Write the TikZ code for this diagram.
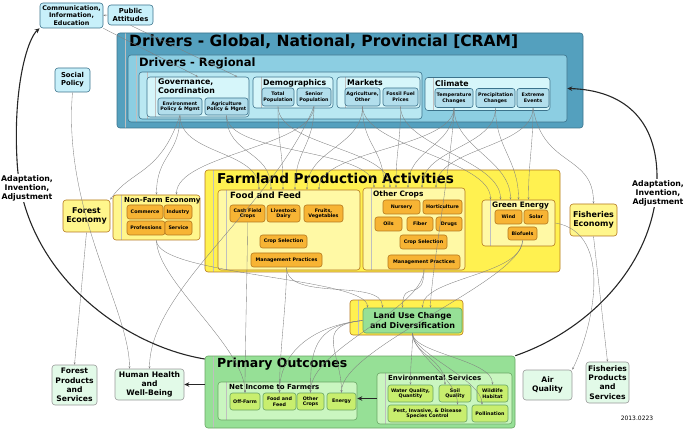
\documentclass[tikz,border=0pt]{standalone}
\usepackage{fontspec}
\setmainfont{DejaVu Sans}
\usetikzlibrary{arrows.meta}
\definecolor{drvA}{RGB}{84,160,190}
\definecolor{drvB}{RGB}{140,206,226}
\definecolor{drvC}{RGB}{185,232,242}
\definecolor{drvD}{RGB}{214,246,250}
\definecolor{drvitem}{RGB}{178,222,236}
\definecolor{drvline}{RGB}{60,115,140}
\definecolor{cyanbox}{RGB}{200,240,250}
\definecolor{farmA}{RGB}{255,241,80}
\definecolor{farmB}{RGB}{255,249,165}
\definecolor{crop}{RGB}{247,180,52}
\definecolor{cropline}{RGB}{180,120,30}
\definecolor{ecobox}{RGB}{255,246,140}
\definecolor{outA}{RGB}{150,224,150}
\definecolor{outB}{RGB}{202,246,192}
\definecolor{outitem}{RGB}{200,238,110}
\definecolor{outline}{RGB}{105,165,100}
\definecolor{endbox}{RGB}{226,250,232}
\begin{document}
\begin{tikzpicture}[x=1pt, y=-1pt,
    sz/.style 2 args={minimum width=#1, minimum height=#2},
    strip/.style={path picture={\draw[black!25, line width=0.4pt] ([xshift=8pt]path picture bounding box.north west) -- ([xshift=8pt]path picture bounding box.south west);}},
    grp/.style={draw=#1, rounded corners=3pt, line width=0.6pt, inner sep=0pt, strip},
    box/.style={draw=#1, rounded corners=2.5pt, line width=0.6pt, align=center, inner sep=0.5pt,
      font=\fontsize{4.8}{5.6}\selectfont\bfseries},
    bigbox/.style={draw=#1, rounded corners=3pt, line width=0.6pt, align=center, inner sep=0.5pt,
      font=\fontsize{7.6}{9.2}\selectfont\bfseries},
    ttl/.style={anchor=north west, inner sep=0pt, align=left},
    sub/.style={ttl, font=\fontsize{7.8}{8.6}\selectfont\bfseries},
    note/.style={align=center, fill=white, inner sep=1pt, font=\fontsize{7.8}{9}\selectfont\bfseries},
    link/.style={draw=black!50, line width=0.35pt, -{Stealth[length=2.4pt, width=1.9pt]}},
    bigarr/.style={draw=black!85, line width=1.1pt, -{Stealth[length=5pt, width=4.5pt]}}]
\useasboundingbox (0,0) rectangle (685,430);

\node[grp=drvline, fill=drvA, sz={466}{95}] (glob) at (350,80.5) {};
\node[ttl, font=\fontsize{15.5}{17}\selectfont\bfseries] (glob-t) at (129,35) {Drivers - Global, National, Provincial [CRAM]};
\node[grp=drvline, fill=drvB, sz={439}{67}] (reg) at (347.5,88.5) {};
\node[ttl, font=\fontsize{11.5}{13}\selectfont\bfseries] (reg-t) at (139,58) {Drivers - Regional};
\node[grp=drvline, fill=drvC, sz={283}{47}] (drvin) at (280.5,95.5) {};

\node[grp=drvline, fill=drvD, sz={102}{40}] (gov) at (198,97) {};
\node[sub] (gov-t) at (158,79) {Governance,\\Coordination};
\node[box=drvline, fill=drvitem, sz={44}{17}] (envpol) at (180,106.5) {Environment\\Policy \& Mgmt};
\node[box=drvline, fill=drvitem, sz={43}{17}] (agrpol) at (226.5,106.5) {Agriculture\\Policy \& Mgmt};
\node[grp=drvline, fill=drvD, sz={80}{31}] (demo) at (293,92.5) {};
\node[sub] (demo-t) at (263,79) {Demographics};
\node[box=drvline, fill=drvitem, sz={32}{18}] (totpop) at (278,97) {Total\\Population};
\node[box=drvline, fill=drvitem, sz={34}{18}] (senpop) at (314,97) {Senior\\Population};
\node[grp=drvline, fill=drvD, sz={83}{31}] (mkt) at (378.5,92.5) {};
\node[sub] (mkt-t) at (347,79) {Markets};
\node[box=drvline, fill=drvitem, sz={35}{18}] (agrmkt) at (362.5,97) {Agriculture,\\Other};
\node[box=drvline, fill=drvitem, sz={35}{18}] (fuel) at (400.5,97) {Fossil Fuel\\Prices};
\node[grp=drvline, fill=drvD, sz={125}{33}] (clim) at (487.5,94) {};
\node[sub] (clim-t) at (435,80) {Climate};
\node[box=drvline, fill=drvitem, sz={38}{19}] (temp) at (454,98) {Temperature\\Changes};
\node[box=drvline, fill=drvitem, sz={39}{19}] (precip) at (495.5,98) {Precipitation\\Changes};
\node[box=drvline, fill=drvitem, sz={32}{19}] (extreme) at (533,98) {Extreme\\Events};

\node[bigbox=drvline, fill=cyanbox, sz={63}{25}, font=\fontsize{6.4}{7.4}\selectfont\bfseries] (comm) at (71.5,15.5) {Communication,\\Information,\\Education};
\node[bigbox=drvline, fill=cyanbox, sz={45}{20}, font=\fontsize{6.8}{8}\selectfont\bfseries] (public) at (130.5,15) {Public\\Attitudes};
\node[bigbox=drvline, fill=cyanbox, sz={35}{24}, font=\fontsize{6.8}{8}\selectfont\bfseries] (social) at (72.5,80) {Social\\Policy};

\node[grp=cropline, fill=farmA, sz={355}{102}] (farm) at (382.5,221) {};
\node[ttl, font=\fontsize{13.6}{15}\selectfont\bfseries] (farm-t) at (217,173) {Farmland Production Activities};
\node[grp=cropline, fill=farmB, sz={142}{80}] (food) at (289,230) {};
\node[sub, font=\fontsize{8.6}{10}\selectfont\bfseries] (food-t) at (230,192) {Food and Feed};
\node[box=cropline, fill=crop, sz={35}{17}] (cash) at (247.5,213.5) {Cash Field\\Crops};
\node[box=cropline, fill=crop, sz={33}{17}] (live) at (283.5,213.5) {Livestock\\Dairy};
\node[box=cropline, fill=crop, sz={39}{17}] (fruit) at (323.5,213.5) {Fruits,\\Vegetables};
\node[box=cropline, fill=crop, sz={47}{13}] (csela) at (283.5,241.5) {Crop Selection};
\node[box=cropline, fill=crop, sz={71}{14}] (mgmta) at (286.5,260) {Management Practices};
\node[grp=cropline, fill=farmB, sz={102}{82}] (other) at (414,229) {};
\node[sub, font=\fontsize{7.4}{8.6}\selectfont\bfseries] (other-t) at (373,191) {Other Crops};
\node[box=cropline, fill=crop, sz={37}{14}] (nursery) at (401.5,207) {Nursery};
\node[box=cropline, fill=crop, sz={39}{14}] (horti) at (442.5,207) {Horticulture};
\node[box=cropline, fill=crop, sz={27}{14}] (oils) at (388.5,224) {Oils};
\node[box=cropline, fill=crop, sz={26}{14}] (fiber) at (420,224) {Fiber};
\node[box=cropline, fill=crop, sz={26}{14}] (drugs) at (449,224) {Drugs};
\node[box=cropline, fill=crop, sz={47}{14}] (cselb) at (423.5,242) {Crop Selection};
\node[box=cropline, fill=crop, sz={72}{14}] (mgmtb) at (424,262) {Management Practices};
\node[grp=cropline, fill=farmB, sz={73}{46}] (green) at (518.5,223) {};
\node[sub, font=\fontsize{7.4}{8.6}\selectfont\bfseries] (green-t) at (492,202) {Green Energy};
\node[box=cropline, fill=crop, sz={27}{14}] (wind) at (508.5,217) {Wind};
\node[box=cropline, fill=crop, sz={24}{14}] (solar) at (536,217) {Solar};
\node[box=cropline, fill=crop, sz={29}{13}] (biofuel) at (522.5,233.5) {Biofuels};

\node[grp=cropline, fill=ecobox, sz={87}{45}] (nonfarm) at (156.5,217.5) {};
\node[sub, font=\fontsize{7}{8}\selectfont\bfseries] (nonfarm-t) at (124,197) {Non-Farm Economy};
\node[box=cropline, fill=crop, sz={36}{14}] (commerce) at (145,212) {Commerce};
\node[box=cropline, fill=crop, sz={28}{14}] (industry) at (178,212) {Industry};
\node[box=cropline, fill=crop, sz={38}{14}] (prof) at (146,228) {Professions};
\node[box=cropline, fill=crop, sz={27}{14}] (service) at (178.5,228) {Service};
\node[bigbox=cropline, fill=ecobox, sz={47}{32}, font=\fontsize{8}{9.6}\selectfont\bfseries] (forest) at (86.5,216) {Forest\\Economy};
\node[bigbox=cropline, fill=ecobox, sz={47}{32}, font=\fontsize{8}{9.6}\selectfont\bfseries] (fishecon) at (593.5,220) {Fisheries\\Economy};

\node[grp=cropline, fill=farmA, sz={113}{35}] (landa) at (406.5,317.5) {};
\node[bigbox=outline, fill=outA, sz={99}{25}, font=\fontsize{8}{9.6}\selectfont\bfseries] (landuse) at (412.5,320.5) {Land Use Change\\and Diversification};

\node[grp=outline, fill=outA, sz={310}{72}] (primary) at (360,392) {};
\node[ttl, font=\fontsize{12.5}{14}\selectfont\bfseries] (primary-t) at (217,358) {Primary Outcomes};
\node[grp=outline, fill=outB, sz={139}{38}] (netinc) at (287.5,401) {};
\node[sub, font=\fontsize{7}{8}\selectfont\bfseries] (netinc-t) at (229,384) {Net Income to Farmers};
\node[box=outline, fill=outitem, sz={30}{17}] (offfarm) at (245,401.5) {Off-Farm};
\node[box=outline, fill=outitem, sz={33}{17}] (foodinc) at (279.5,401.5) {Food and\\Feed};
\node[box=outline, fill=outitem, sz={27}{17}] (othinc) at (310.5,401.5) {Other\\Crops};
\node[box=outline, fill=outitem, sz={29}{17}] (energy) at (341.5,401.5) {Energy};
\node[grp=outline, fill=outB, sz={135}{51}] (env) at (444.5,398.5) {};
\node[sub, font=\fontsize{7}{8}\selectfont\bfseries] (env-t) at (388,375) {Environmental Services};
\node[box=outline, fill=outitem, sz={45}{17}] (water) at (410.5,393.5) {Water Quality,\\Quantity};
\node[box=outline, fill=outitem, sz={32}{17}] (soil) at (455,393.5) {Soil\\Quality};
\node[box=outline, fill=outitem, sz={31}{17}] (wild) at (492.5,393.5) {Wildlife\\Habitat};
\node[box=outline, fill=outitem, sz={79}{17}] (pest) at (427.5,413.5) {Pest, Invasive, \& Disease\\Species Control};
\node[box=outline, fill=outitem, sz={36}{17}] (poll) at (490,413.5) {Pollination};

\node[bigbox=black!40, fill=endbox, sz={45}{40}] (forprod) at (74.5,385) {Forest\\Products\\and\\Services};
\node[bigbox=black!40, fill=endbox, sz={69}{31}] (health) at (149.5,384.5) {Human Health\\and\\Well-Being};
\node[bigbox=black!40, fill=endbox, sz={49}{30}] (air) at (547.5,385) {Air\\Quality};
\node[bigbox=black!40, fill=endbox, sz={43}{41}] (fishprod) at (607.5,382.5) {Fisheries\\Products\\and\\Services};
\node[font=\fontsize{6}{7}\selectfont] (date) at (637,418) {2013.0223};

\foreach \a/\b/\s in {envpol/food/-30, agrpol/food/-18, totpop/food/-6, senpop/food/6,
    agrmkt/food/18, temp/food/30, agrpol/other/-40, agrmkt/other/-30, fuel/other/-18,
    temp/other/-6, precip/other/8, extreme/other/22, totpop/other/-24, agrmkt/green/-28,
    fuel/green/-18, temp/green/-8, precip/green/0, extreme/green/10, senpop/nonfarm/20, envpol/nonfarm/0}
  \draw[link] (\a.south) .. controls +(0,40) and +(0,-40) .. ([xshift=\s]\b.north);
\foreach \a/\s in {mgmta/-30, mgmtb/-10, biofuel/10, temp/18, nonfarm/-45}
  \draw[link] (\a.south) .. controls +(0,35) and +(0,-30) .. ([xshift=\s]landuse.north);
\foreach \b in {foodinc, othinc, energy}
  \draw[link] (landuse.west) .. controls +(-50,5) and +(0,-40) .. (\b.north);
\foreach \a/\b in {mgmta/foodinc, mgmtb/othinc, biofuel/energy, nonfarm/offfarm, cash/offfarm}
  \draw[link] (\a.south) .. controls +(0,40) and +(0,-45) .. (\b.north);
\foreach \b/\s in {water/0, soil/-10, wild/0, pest/30, poll/-8}
  \draw[link] (landuse.south) .. controls +(0,20) and +(0,-25) .. ([xshift=\s]\b.north);

\draw[link] (comm.south east) -- (gov.north);
\draw[link] (public.south) -- ([xshift=-12]gov.north east);
\draw[link] (public.west) -- (comm.east);
\draw[link] (social.south) .. controls +(-10,120) and +(0,-60) .. ([xshift=-20]health.north);
\draw[link] (senpop.south) .. controls +(-40,100) and +(0,-80) .. (health.north);
\draw[link] (envpol.south) .. controls +(-20,60) and +(20,-30) .. (forest.north east);
\draw[link] (forest.south) -- (forprod.north);
\draw[link] (extreme.south) .. controls +(10,60) and +(0,-50) .. (fishecon.north);
\draw[link] (fishecon.south) -- (fishprod.north);
\draw[link] (green.east) .. controls +(60,10) and +(20,-40) .. (air.north east);

\draw[bigarr] (primary.168) .. controls (120,345) and (22,270) .. (17,160) .. controls (13,85) and (28,38) .. (comm.south west);
\draw[bigarr] (primary.north east) .. controls (590,330) and (656,262) .. (657,180) .. controls (658,118) and (622,90) .. (reg.east);
\draw[bigarr] (primary.west |- health.east) -- (health.east);
\draw[bigarr] (env.west) -- (env.west -| netinc.east);

\node[note] (adaptl) at (27,188) {Adaptation,\\Invention,\\Adjustment};
\node[note] (adaptr) at (658,193) {Adaptation,\\Invention,\\Adjustment};
\end{tikzpicture}
\end{document}
